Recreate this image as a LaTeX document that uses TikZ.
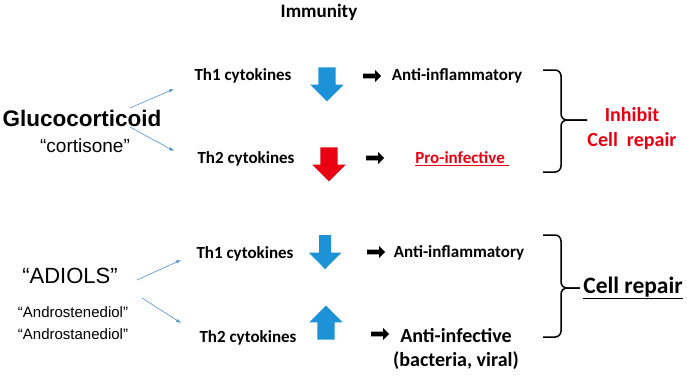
\documentclass[tikz,border=0pt]{standalone}
\usepackage{fontspec}
\setmainfont{Carlito}
\newfontfamily\arialfont{Liberation Sans}
\usetikzlibrary{positioning,arrows.meta,shapes.arrows}
\definecolor{arrowblue}{RGB}{30,146,214}
\definecolor{thinblue}{RGB}{84,144,206}
\definecolor{alertred}{RGB}{232,0,18}
\tikzset{
  thinarrow/.style={-{Latex[length=1.7mm, width=1.2mm]}, thinblue, line width=0.6pt},
  heading/.style={font=\bfseries\fontsize{19}{22}\selectfont},
  drugname/.style={font=\arialfont\bfseries\fontsize{22.5}{26}\selectfont},
  drugnote/.style={font=\arialfont\fontsize{19}{22}\selectfont},
  adiols/.style={font=\arialfont\fontsize{22}{26}\selectfont},
  steroid/.style={font=\arialfont\fontsize{15}{18}\selectfont},
  cytokine/.style={font=\bfseries\fontsize{17}{20}\selectfont},
  effect/.style={font=\bfseries\fontsize{17}{20}\selectfont},
  bigeffect/.style={font=\bfseries\fontsize{20}{24}\selectfont, align=center},
  outcome/.style={font=\bfseries\fontsize{20}{25}\selectfont, text=alertred, align=center},
  bigarrow/.style={single arrow, draw=none, inner sep=8.5pt, single arrow head extend=8pt, minimum height=34pt},
  downarrow/.style={bigarrow, shape border rotate=270},
  uparrow/.style={bigarrow, shape border rotate=90},
  smallarrow/.style={single arrow, draw=none, fill=black, inner sep=2.2pt, single arrow head extend=3.6pt, minimum height=18pt},
  bracket/.style={line width=1.5pt, rounded corners=6pt}
}

\begin{document}
\begin{tikzpicture}[x=1pt, y=-1pt, >=Latex]
  \useasboundingbox (0,0) rectangle (687,375);
  \node[heading] (immunity) at (319,12) {Immunity};

  \node[drugname] (gluco) at (82,118) {Glucocorticoid};
  \node[drugnote] (cortisone) at (85,146) {“cortisone”};
  \node[cytokine] (th1a) at (243,76) {Th1 cytokines};
  \node[cytokine] (th2a) at (246,159) {Th2 cytokines};
  \node[downarrow, fill=arrowblue] (th1adown) at (327,80) {};
  \node[downarrow, fill=alertred] (th2adown) at (329,160) {};
  \node[smallarrow] (th1astep) at (371,76) {};
  \node[smallarrow] (th2astep) at (374,158) {};
  \node[effect] (antiinfla) at (457,76) {Anti-inflammatory};
  \node[effect, text=alertred] (proinf) at (462,159) {\underline{Pro-infective\ }};
  \node[outcome] (inhibit) at (632,129) {Inhibit\\Cell\ \ repair};
  \coordinate (glucoup) at (130,108);
  \coordinate (glucodown) at (130,127);
  \coordinate (th1ain) at (174,89);
  \coordinate (th2ain) at (174,151);
  \draw[thinarrow] (glucoup) -- (th1ain);
  \draw[thinarrow] (glucodown) -- (th2ain);
  \draw[bracket] (543,70) -| (561,120) -- (587,120);
  \draw[bracket] (587,120) -- (561,120) |- (543,172);

  \node[adiols] (adiols) at (70,276) {“ADIOLS”};
  \node[steroid] (androstene) at (73,312) {“Androstenediol”};
  \node[steroid, below=4pt of androstene] (androstane) {“Androstanediol”};
  \node[cytokine] (th1b) at (245,254) {Th1 cytokines};
  \node[cytokine] (th2b) at (248,338) {Th2 cytokines};
  \node[downarrow, fill=arrowblue, inner sep=5.8pt, single arrow head extend=10.5pt] (th1bdown) at (325,249) {};
  \node[uparrow, fill=arrowblue] (th2bup) at (326,327) {};
  \node[smallarrow] (th1bstep) at (375,252) {};
  \node[smallarrow] (th2bstep) at (379,334) {};
  \node[effect] (antiinflb) at (459,253) {Anti-inflammatory};
  \node[bigeffect] (antiinf) at (456,349) {Anti-infective\\(bacteria, viral)};
  \node[bigeffect, font=\bfseries\fontsize{23.5}{28}\selectfont] (repair) at (633,288) {\underline{Cell repair}};
  \coordinate (adiolsup) at (137,280);
  \coordinate (adiolsdown) at (142,298);
  \coordinate (th1bin) at (181,260);
  \coordinate (th2bin) at (181,323);
  \draw[thinarrow] (adiolsup) -- (th1bin);
  \draw[thinarrow] (adiolsdown) -- (th2bin);
  \draw[bracket] (543,235) -| (561,288) -- (repair.west);
  \draw[bracket] (repair.west) -- (561,288) |- (543,337);
\end{tikzpicture}
\end{document}
